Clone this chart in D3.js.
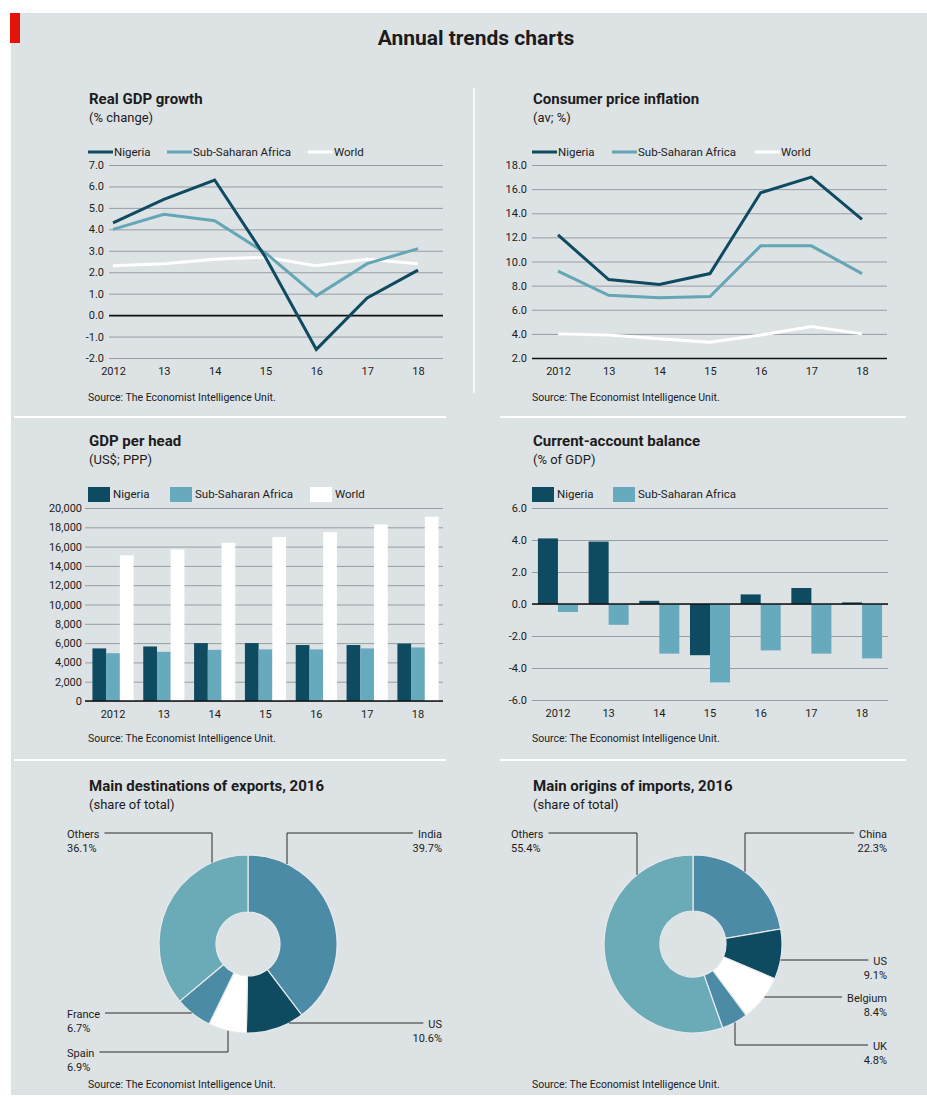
<!DOCTYPE html>
<html>
<head>
<meta charset="utf-8">
<script src="https://cdn.jsdelivr.net/npm/d3@7"></script>
<style>
  body { margin: 0; background: #ffffff; }
  svg text { font-family: Roboto, "Open Sans", sans-serif; fill: #1c1c1c; }
</style>
</head>
<body>
<svg id="chart"></svg>
<script>
// Data
let years = ["2012", "13", "14", "15", "16", "17", "18"];

let gdpNigeria = [4.3, 5.4, 6.3, 2.7, -1.6, 0.8, 2.1];
let gdpSSA = [4.0, 4.7, 4.4, 2.9, 0.9, 2.4, 3.1];
let gdpWorld = [2.3, 2.4, 2.6, 2.7, 2.3, 2.6, 2.4];
let gdpTicks = [-2, -1, 0, 1, 2, 3, 4, 5, 6, 7];

let cpiNigeria = [12.2, 8.5, 8.1, 9.0, 15.7, 17.0, 13.5];
let cpiSSA = [9.2, 7.2, 7.0, 7.1, 11.3, 11.3, 9.0];
let cpiWorld = [4.0, 3.9, 3.6, 3.3, 3.9, 4.6, 4.0];
let cpiTicks = [2, 4, 6, 8, 10, 12, 14, 16, 18];

let headNigeria = [5450, 5650, 6000, 6000, 5800, 5800, 5950];
let headSSA = [4950, 5100, 5300, 5350, 5350, 5450, 5550];
let headWorld = [15100, 15700, 16400, 17000, 17500, 18300, 19100];
let headTicks = [0, 2000, 4000, 6000, 8000, 10000, 12000, 14000, 16000, 18000, 20000];

let caNigeria = [4.1, 3.9, 0.2, -3.2, 0.6, 1.0, 0.1];
let caSSA = [-0.5, -1.3, -3.1, -4.9, -2.9, -3.1, -3.4];
let caTicks = [-6, -4, -2, 0, 2, 4, 6];

let exportNames = ["India", "US", "Spain", "France", "Others"];
let exportShares = [39.7, 10.6, 6.9, 6.7, 36.1];

let importNames = ["China", "US", "Belgium", "UK", "Others"];
let importShares = [22.3, 9.1, 8.4, 4.8, 55.4];

// Colours
let dark = "#0e4b61";
let mid = "#4c8ba6";
let light = "#63a6b6";
let lightBar = "#67aabd";
let white = "#ffffff";
let grid = "#8f969b";

let width = 927;
let height = 1097;
let svg = d3.select("#chart").attr("width", width).attr("height", height);
let source = "Source: The Economist Intelligence Unit.";

let drawFrame = () => {
    svg.append("rect").attr("x", 11).attr("y", 13).attr("width", 916).attr("height", 1082).attr("fill", "#dde2e5");
    svg.append("rect").attr("x", 10).attr("y", 13).attr("width", 10).attr("height", 30).attr("fill", "#e3120b");
    svg.append("text").attr("x", 476).attr("y", 45).attr("text-anchor", "middle")
        .style("font-size", "21px").style("font-weight", "bold").text("Annual trends charts");

    // white separators between panels
    [417, 760].forEach(yy => {
        svg.append("line").attr("x1", 14).attr("x2", 446).attr("y1", yy).attr("y2", yy).attr("stroke", white).attr("stroke-width", 2);
        svg.append("line").attr("x1", 500).attr("x2", 906).attr("y1", yy).attr("y2", yy).attr("stroke", white).attr("stroke-width", 2);
    });
    svg.append("line").attr("x1", 474).attr("x2", 474).attr("y1", 88).attr("y2", 393).attr("stroke", white).attr("stroke-width", 1.5);
}

let drawHeading = (x, y, title, sub) => {
    svg.append("text").attr("x", x).attr("y", y).style("font-size", "15px").style("font-weight", "bold").text(title);
    svg.append("text").attr("x", x).attr("y", y + 18).style("font-size", "13px").text(sub);
}

let drawSource = (x, y) => {
    svg.append("text").attr("x", x).attr("y", y).style("font-size", "10.5px").text(source);
}

// y axis drawn as gridlines with labels on the left
let drawYAxis = (y, cfg, fmt) => {
    let axis = d3.axisLeft(y).tickValues(cfg.ticks).tickSize(-(cfg.gx1 - cfg.gx0))
        .tickPadding(cfg.gx0 - cfg.labelX).tickFormat(fmt);
    let g = svg.append("g").attr("transform", "translate(" + cfg.gx0 + ",0)").call(axis);
    g.select(".domain").remove();
    g.selectAll(".tick line").attr("stroke", d => d === cfg.base ? "#111" : grid)
        .attr("stroke-width", d => d === cfg.base ? 1.6 : 0.9);
    g.selectAll(".tick text").style("font-size", "11px").attr("fill", "#1c1c1c");
}

let drawXAxis = (x, yPos) => {
    let g = svg.append("g").attr("transform", "translate(0," + yPos + ")")
        .call(d3.axisBottom(x).tickSize(0).tickPadding(9));
    g.select(".domain").remove();
    g.selectAll(".tick text").style("font-size", "11px").attr("fill", "#1c1c1c");
}

let drawLineLegend = (cfg) => {
    cfg.series.forEach((s, i) => {
        let lx = cfg.legendX[i];
        svg.append("line").attr("x1", lx).attr("x2", lx + 25).attr("y1", cfg.legendY).attr("y2", cfg.legendY)
            .attr("stroke", s.color).attr("stroke-width", 3);
        svg.append("text").attr("x", lx + 26).attr("y", cfg.legendY + 4).style("font-size", "11.5px").text(s.name);
    });
}

let drawBarLegend = (cfg) => {
    cfg.series.forEach((s, i) => {
        let lx = cfg.legendX[i];
        svg.append("rect").attr("x", lx).attr("y", cfg.legendY - 7).attr("width", 22).attr("height", 15).attr("fill", s.color);
        svg.append("text").attr("x", lx + 25).attr("y", cfg.legendY + 4).style("font-size", "11.5px").text(s.name);
    });
}

let drawLineChart = (cfg) => {
    drawHeading(cfg.tx, cfg.titleY, cfg.title, cfg.sub);
    let x = d3.scalePoint().domain(years).range([cfg.px0, cfg.px1]);
    let y = d3.scaleLinear().domain(cfg.domain).range([cfg.yBot, cfg.yTop]);
    drawYAxis(y, cfg, d => d.toFixed(1));
    drawXAxis(x, cfg.yBot);
    drawLineLegend(cfg);

    let line = d3.line().x((d, i) => x(years[i])).y(d => y(d));
    // draw world first so the coloured lines sit on top
    cfg.series.slice().reverse().forEach(s => {
        svg.append("path").datum(s.values).attr("d", line).attr("fill", "none")
            .attr("stroke", s.color).attr("stroke-width", 3).attr("stroke-linejoin", "miter");
    });
    drawSource(cfg.tx - 1, cfg.sourceY);
}

let drawBarChart = (cfg) => {
    drawHeading(cfg.tx, cfg.titleY, cfg.title, cfg.sub);
    let x = d3.scaleBand().domain(years).range(cfg.band).paddingInner(cfg.pad).paddingOuter(cfg.pad / 2);
    let x1 = d3.scaleBand().domain(cfg.series.map(s => s.name)).range([0, x.bandwidth()]);
    let y = d3.scaleLinear().domain(cfg.domain).range([cfg.yBot, cfg.yTop]);

    // gridlines below the bars, baseline on top of them
    drawYAxis(y, Object.assign({}, cfg, { base: null }), cfg.fmt);
    drawXAxis(x, cfg.yBot);
    drawBarLegend(cfg);

    cfg.series.forEach(s => {
        svg.append("g").selectAll("rect").data(s.values).enter().append("rect")
            .attr("x", (d, i) => x(years[i]) + x1(s.name))
            .attr("width", x1.bandwidth())
            .attr("y", d => y(Math.max(0, d)))
            .attr("height", d => Math.abs(y(d) - y(0)))
            .attr("fill", s.color);
    });
    svg.append("line").attr("x1", cfg.gx0).attr("x2", cfg.gx1).attr("y1", y(0)).attr("y2", y(0))
        .attr("stroke", "#111").attr("stroke-width", 1.6);
    drawSource(cfg.tx - 1, cfg.sourceY);
}

let drawDonut = (cfg) => {
    drawHeading(cfg.tx, 791, cfg.title, "(share of total)");
    let pie = d3.pie().sort(null).value(d => d.value);
    let arcs = pie(cfg.names.map((n, i) => ({ name: n, value: cfg.values[i] })));
    let arc = d3.arc().innerRadius(cfg.r0).outerRadius(cfg.r1);
    let g = svg.append("g").attr("transform", "translate(" + cfg.cx + "," + cfg.cy + ")");
    g.selectAll("path").data(arcs).enter().append("path")
        .attr("d", arc)
        .attr("fill", (d, i) => cfg.colors[i])
        .attr("stroke", "#e6eaec").attr("stroke-width", 1.2);

    // labels with elbow leader lines
    arcs.forEach((a, i) => {
        let lab = cfg.labels[i];
        let t1 = svg.append("text").attr("x", lab.x).attr("y", lab.y + 4.5).style("font-size", "11px")
            .attr("text-anchor", lab.side === "right" ? "end" : "start").text(a.data.name);
        svg.append("text").attr("x", lab.x).attr("y", lab.y + 18.5).style("font-size", "11px")
            .attr("text-anchor", lab.side === "right" ? "end" : "start").text(a.data.value.toFixed(1) + "%");
        let tw = t1.node().getComputedTextLength();
        let endX = lab.side === "right" ? lab.x - tw - 5 : lab.x + tw + 5;
        let r = cfg.r1;
        let pts;
        if (lab.vx !== undefined) {
            // vertical drop from label line onto the ring
            let dx = lab.vx - cfg.cx;
            let dy = Math.sqrt(r * r - dx * dx) * (lab.y < cfg.cy ? -1 : 1);
            pts = [[endX, lab.y], [lab.vx, lab.y], [lab.vx, cfg.cy + dy]];
        } else {
            let dy = lab.y - cfg.cy;
            let dx = Math.sqrt(r * r - dy * dy) * (lab.side === "right" ? 1 : -1);
            pts = [[endX, lab.y], [cfg.cx + dx, lab.y]];
        }
        svg.append("path").attr("d", d3.line()(pts)).attr("fill", "none").attr("stroke", "#2a2a2a").attr("stroke-width", 1);
    });
    drawSource(cfg.tx - 1, 1088);
}

drawFrame();

drawLineChart({
    title: "Real GDP growth", sub: "(% change)", tx: 89, titleY: 104,
    gx0: 109, gx1: 443, px0: 113, px1: 418, yTop: 165, yBot: 358,
    domain: [-2, 7], ticks: gdpTicks, base: 0, labelX: 104,
    legendX: [88, 167, 308], legendY: 152, sourceY: 401,
    series: [
        { name: "Nigeria", values: gdpNigeria, color: dark },
        { name: "Sub-Saharan Africa", values: gdpSSA, color: light },
        { name: "World", values: gdpWorld, color: white }
    ]
});

drawLineChart({
    title: "Consumer price inflation", sub: "(av; %)", tx: 533, titleY: 104,
    gx0: 532, gx1: 887, px0: 558, px1: 862, yTop: 165, yBot: 358,
    domain: [2, 18], ticks: cpiTicks, base: 2, labelX: 527,
    legendX: [532, 612, 755], legendY: 152, sourceY: 401,
    series: [
        { name: "Nigeria", values: cpiNigeria, color: dark },
        { name: "Sub-Saharan Africa", values: cpiSSA, color: light },
        { name: "World", values: cpiWorld, color: white }
    ]
});

drawBarChart({
    title: "GDP per head", sub: "(US$; PPP)", tx: 89, titleY: 446,
    gx0: 85, gx1: 443, band: [87.6, 443.4], pad: 0.19, yTop: 508, yBot: 701,
    domain: [0, 20000], ticks: headTicks, labelX: 82, fmt: d3.format(","),
    legendX: [88, 170, 310], legendY: 494, sourceY: 742,
    series: [
        { name: "Nigeria", values: headNigeria, color: dark },
        { name: "Sub-Saharan Africa", values: headSSA, color: lightBar },
        { name: "World", values: headWorld, color: white }
    ]
});

drawBarChart({
    title: "Current-account balance", sub: "(% of GDP)", tx: 533, titleY: 446,
    gx0: 532, gx1: 888, band: [532.6, 887.4], pad: 0.21, yTop: 508, yBot: 700,
    domain: [-6, 6], ticks: caTicks, labelX: 527, fmt: d => d.toFixed(1),
    legendX: [532, 613], legendY: 494, sourceY: 742,
    series: [
        { name: "Nigeria", values: caNigeria, color: dark },
        { name: "Sub-Saharan Africa", values: caSSA, color: lightBar }
    ]
});

drawDonut({
    title: "Main destinations of exports, 2016", tx: 89,
    names: exportNames, values: exportShares, colors: [mid, dark, white, mid, "#6aabb7"],
    cx: 248, cy: 944, r0: 32, r1: 89,
    labels: [
        { side: "right", x: 442, y: 833, vx: 287 },
        { side: "right", x: 442, y: 1023 },
        { side: "left", x: 67, y: 1052, vx: 228 },
        { side: "left", x: 67, y: 1013 },
        { side: "left", x: 67, y: 833, vx: 212 }
    ]
});

drawDonut({
    title: "Main origins of imports, 2016", tx: 533,
    names: importNames, values: importShares, colors: [mid, dark, white, mid, "#6aabb7"],
    cx: 693, cy: 944, r0: 33, r1: 89,
    labels: [
        { side: "right", x: 887, y: 833, vx: 745 },
        { side: "right", x: 887, y: 960 },
        { side: "right", x: 887, y: 997 },
        { side: "right", x: 887, y: 1045, vx: 735 },
        { side: "left", x: 511, y: 833, vx: 637 }
    ]
});
</script>
</body>
</html>
